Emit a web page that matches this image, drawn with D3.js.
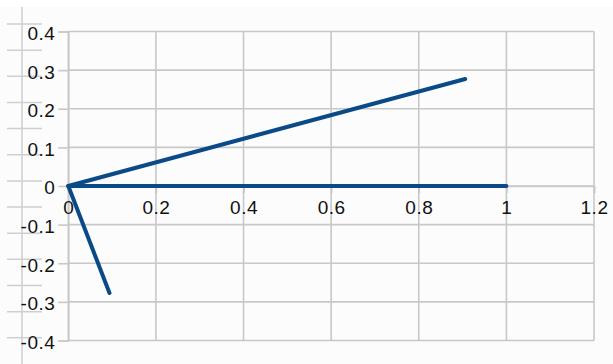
<!DOCTYPE html>
<html><head><meta charset="utf-8">
<script src="https://cdn.jsdelivr.net/npm/d3@7"></script>
<style>
html,body{margin:0;padding:0;background:#fff;}
svg{display:block;}
</style></head>
<body>
<svg id="c" width="613" height="364"></svg>
<script>
// Data
const xTicks = [0, 0.2, 0.4, 0.6, 0.8, 1, 1.2];
const yTicks = [-0.4, -0.3, -0.2, -0.1, 0, 0.1, 0.2, 0.3, 0.4];
const xTickLabels = ["0", "0.2", "0.4", "0.6", "0.8", "1", "1.2"];
const yTickLabels = ["-0.4", "-0.3", "-0.2", "-0.1", "0", "0.1", "0.2", "0.3", "0.4"];
const segmentX = [[0, 1], [0, 0.906], [0, 0.094]];
const segmentY = [[0, 0], [0, 0.277], [0, -0.277]];

const svg = d3.select("#c");
const W = 613, H = 364;
const x = d3.scaleLinear().domain([0, 1.2]).range([68.3, 594]);
const y = d3.scaleLinear().domain([-0.4, 0.4]).range([340.5, 31.5]);

// page background (spreadsheet)
svg.append("rect").attr("x", 0).attr("y", 0).attr("width", W).attr("height", H).attr("fill", "#fbfcfb");
svg.append("rect").attr("x", 0).attr("y", 0).attr("width", W).attr("height", 7).attr("fill", "#ffffff");
const bg = svg.append("g").attr("stroke", "#cfcfcf").attr("stroke-width", 1.5);
bg.append("line").attr("x1", 22).attr("x2", 22).attr("y1", 7).attr("y2", H);
d3.range(13).forEach(k => {
  const yy = 24 + k * 26.15;
  bg.append("line").attr("x1", 7).attr("x2", 42).attr("y1", yy).attr("y2", yy);
});

// grid
const grid = svg.append("g").attr("stroke", "#c8c8c8").attr("stroke-width", 1.6);
xTicks.forEach(v => grid.append("line").attr("x1", x(v)).attr("x2", x(v)).attr("y1", y(0.4)).attr("y2", y(-0.4)));
yTicks.forEach(v => grid.append("line").attr("x1", x(0)).attr("x2", x(1.2)).attr("y1", y(v)).attr("y2", y(v)));

// axes through origin
const font = "'Liberation Sans', Arial, sans-serif";
const yAxis = d3.axisLeft(y).tickValues(yTicks).tickSize(10).tickPadding(3)
  .tickFormat((d, i) => yTickLabels[i]);
const gy = svg.append("g").attr("transform", `translate(${x(0)},0)`).call(yAxis);
gy.select(".domain").attr("stroke", "#c8c8c8").attr("stroke-width", 1.6);
gy.selectAll(".tick line").attr("stroke", "#c8c8c8").attr("stroke-width", 1.6);
gy.selectAll(".tick text").attr("fill", "#111").attr("font-family", font)
  .attr("font-size", 19).attr("letter-spacing", "0.5px").attr("dy", "0.42em").attr("x", -13);

const xAxis = d3.axisBottom(x).tickValues(xTicks).tickSize(7).tickPadding(8)
  .tickFormat((d, i) => xTickLabels[i]);
const gx = svg.append("g").attr("transform", `translate(0,${y(0)})`).call(xAxis);
gx.select(".domain").attr("stroke", "#c8c8c8").attr("stroke-width", 1.6);
gx.selectAll(".tick line").attr("stroke", "#c8c8c8").attr("stroke-width", 1.6);
gx.selectAll(".tick text").attr("fill", "#111").attr("font-family", font)
  .attr("font-size", 19).attr("letter-spacing", "0.5px");
[gx, gy].forEach(g => g.attr("font-family", null));

// series lines
const line = d3.line().x(d => x(d[0])).y(d => y(d[1]));
segmentX.forEach((xs, i) => {
  const pts = xs.map((v, j) => [v, segmentY[i][j]]);
  svg.append("path").attr("d", line(pts)).attr("fill", "none")
    .attr("stroke", "#0a4a87").attr("stroke-width", 4)
    .attr("stroke-linecap", "round").attr("stroke-linejoin", "round");
});
</script>
</body></html>
